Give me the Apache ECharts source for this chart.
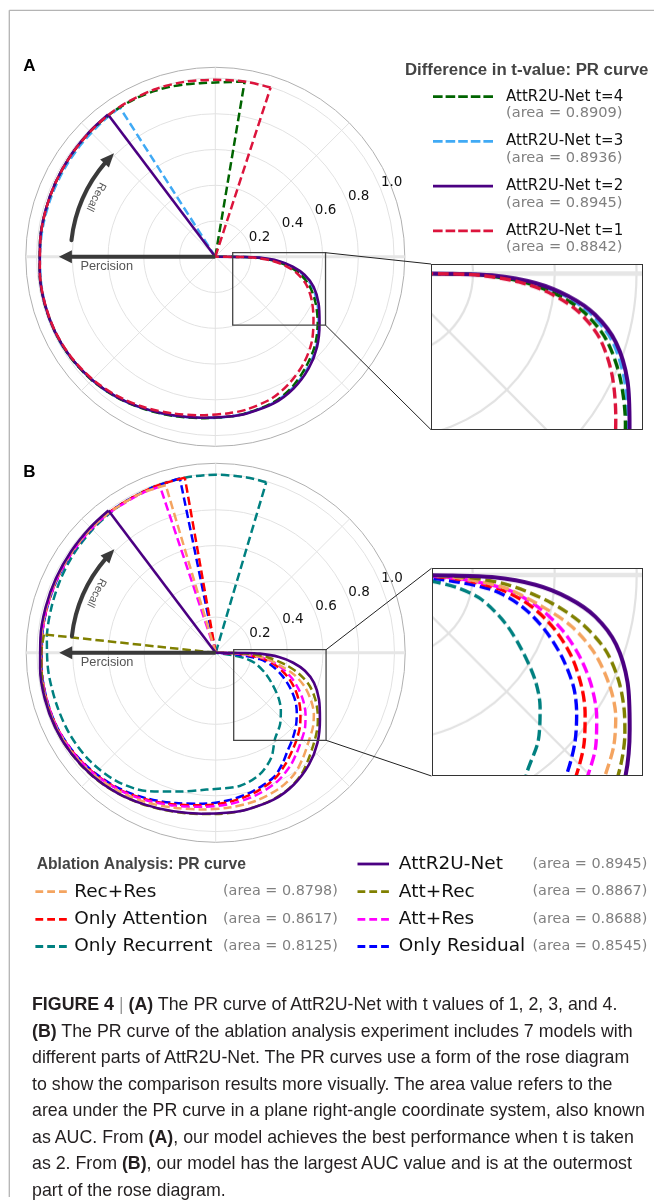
<!DOCTYPE html>
<html><head><meta charset="utf-8">
<script src="https://cdn.jsdelivr.net/npm/echarts@6/dist/echarts.min.js"></script>
<style>
html,body{margin:0;padding:0;background:#fff;}
#page{position:relative;width:654px;height:1200px;overflow:hidden;background:#fff;}
#main{position:absolute;left:0;top:0;width:654px;height:1200px;}
.inset{position:absolute;overflow:hidden;background:#fff;}
.insetBorder{position:absolute;border:1.7px solid #333;box-sizing:border-box;pointer-events:none;}
#caption{position:absolute;left:32px;top:991px;font-family:'Liberation Sans',Arial,sans-serif;font-size:17.8px;line-height:26.5px;color:#231f20;white-space:nowrap;}
#caption b{font-weight:bold;}
#caption .bar{color:#999;}
</style></head>
<body><div id="page">
<div id="main"></div>
<div id="insetA" class="inset"></div>
<div id="insetB" class="inset"></div>
<div id="borderA" class="insetBorder"></div>
<div id="borderB" class="insetBorder"></div>
<div id="caption">
<div><b>FIGURE 4</b> <span class="bar">|</span> <b>(A)</b> The PR curve of AttR2U-Net with t values of 1, 2, 3, and 4.</div>
<div><b>(B)</b> The PR curve of the ablation analysis experiment includes 7 models with</div>
<div>different parts of AttR2U-Net. The PR curves use a form of the rose diagram</div>
<div>to show the comparison results more visually. The area value refers to the</div>
<div>area under the PR curve in a plane right-angle coordinate system, also known</div>
<div>as AUC. From <b>(A)</b>, our model achieves the best performance when t is taken</div>
<div>as 2. From <b>(B)</b>, our model has the largest AUC value and is at the outermost</div>
<div>part of the rose diagram.</div>
</div>
</div>
<script>
// ================= DATA (angle in degrees, counter-clockwise from right; precision = radius) =================
const radiusTicks = [0.2, 0.4, 0.6, 0.8, 1.0];

// AttR2U-Net (t = 2) – shared by panel A and panel B
const attr2uCurve = [[127,0.997],[135,0.992],[145,0.988],[155,0.986],[165,0.985],[175,0.984],[185,0.986],[195,0.99],[205,0.99],[215,0.985],[225,0.974],[235,0.958],[245,0.937],[255,0.918],[265,0.904],[275,0.897],[281.4,0.894],[291.7,0.883],[300.7,0.857],[309.9,0.814],[318.5,0.76],[327.4,0.692],[335.7,0.634],[343,0.575],[348.6,0.509],[352.7,0.437],[356.2,0.354],[358.9,0.247],[359.6,0.15],[360,0]];
// Panel A
const t4Curve = [[80.5,0.993],[85,0.982],[90,0.975],[95,0.975],[100,0.979],[105,0.984],[110,0.988],[117,0.991],[125,0.992],[135,0.99],[145,0.987],[155,0.985],[165,0.984],[175,0.984],[185,0.986],[195,0.99],[205,0.99],[215,0.986],[225,0.976],[235,0.96],[245,0.94],[255,0.921],[265,0.906],[275,0.897],[281.4,0.892],[291.7,0.877],[300.7,0.845],[309.9,0.795],[318.5,0.745],[327.4,0.68],[335.7,0.614],[343,0.55],[348.6,0.482],[352.7,0.41],[356.2,0.326],[358.9,0.224],[359.6,0.13],[360,0]];
const t3Curve = [[122.6,0.991],[130,0.985],[140,0.979],[150,0.977],[160,0.977],[170,0.979],[180,0.981],[190,0.986],[200,0.99],[210,0.99],[220,0.981],[230,0.968],[240,0.949],[250,0.928],[260,0.911],[270,0.901],[281.4,0.891],[291.7,0.879],[300.7,0.851],[309.9,0.808],[318.5,0.755],[327.4,0.686],[335.7,0.626],[343,0.566],[348.6,0.499],[352.7,0.428],[356.2,0.345],[358.9,0.238],[359.6,0.14],[360,0]];
const t1Curve = [[71.9,0.996],[80,0.994],[90,0.99],[100,0.994],[110,0.996],[120,0.995],[127,0.993],[135,0.99],[145,0.987],[155,0.985],[165,0.984],[175,0.983],[185,0.985],[195,0.988],[205,0.988],[215,0.982],[225,0.97],[235,0.952],[245,0.93],[255,0.907],[265,0.89],[275,0.878],[281.4,0.872],[291.7,0.853],[300.7,0.818],[309.9,0.773],[318.5,0.72],[327.4,0.652],[335.7,0.592],[343,0.532],[348.6,0.466],[352.7,0.396],[356.2,0.313],[358.9,0.212],[359.6,0.12],[360,0]];
// Panel B
const recResCurve = [[106.6,0.978],[115,0.985],[127,0.985],[135,0.984],[145,0.982],[155,0.981],[165,0.98],[175,0.979],[185,0.981],[195,0.985],[205,0.985],[215,0.978],[225,0.965],[235,0.945],[245,0.922],[255,0.897],[265,0.88],[275,0.869],[285,0.858],[295,0.838],[303,0.808],[310,0.762],[317.3,0.713],[322.7,0.684],[327.9,0.648],[333.1,0.6],[339.1,0.533],[344.2,0.459],[348.4,0.376],[353.6,0.281],[357.5,0.17],[359.5,0.08],[360,0]];
const attRecCurve = [[173.9,0.966],[180,0.975],[190,0.984],[200,0.988],[210,0.988],[220,0.981],[230,0.968],[240,0.949],[250,0.929],[260,0.912],[270,0.902],[280,0.895],[290,0.883],[298,0.864],[305,0.833],[311,0.79],[316.5,0.752],[321.4,0.721],[326,0.689],[330.1,0.657],[335.4,0.611],[340.9,0.554],[345.9,0.48],[350.2,0.398],[355.3,0.288],[358.5,0.18],[359.5,0.1],[360,0]];
const attResCurve = [[108.5,0.98],[115,0.983],[127,0.983],[135,0.982],[145,0.98],[155,0.979],[165,0.978],[175,0.977],[185,0.979],[195,0.982],[205,0.982],[215,0.974],[225,0.96],[235,0.938],[245,0.912],[255,0.885],[265,0.865],[275,0.85],[285,0.83],[295,0.8],[303,0.76],[309,0.72],[315,0.682],[320.3,0.65],[325.6,0.609],[331.1,0.56],[336.1,0.509],[341.6,0.448],[347.1,0.378],[352.4,0.298],[355.8,0.207],[358.5,0.11],[360,0]];
const onlyAttCurve = [[100,0.995],[110,0.99],[120,0.986],[127,0.985],[135,0.983],[145,0.981],[155,0.979],[165,0.977],[175,0.976],[185,0.978],[195,0.981],[205,0.981],[215,0.972],[225,0.957],[235,0.935],[245,0.907],[255,0.878],[265,0.856],[275,0.838],[285,0.814],[295,0.778],[302,0.735],[308,0.695],[313.3,0.662],[319.1,0.624],[324.7,0.581],[329.8,0.539],[335.8,0.484],[341.7,0.422],[347.5,0.352],[352.5,0.273],[356.5,0.17],[358.5,0.09],[360,0]];
const onlyResCurve = [[101.6,0.995],[110,0.99],[120,0.986],[127,0.985],[135,0.982],[145,0.979],[155,0.977],[165,0.976],[175,0.975],[185,0.977],[195,0.98],[205,0.98],[215,0.97],[225,0.953],[235,0.93],[245,0.9],[255,0.87],[265,0.847],[275,0.828],[285,0.802],[295,0.768],[301,0.724],[306,0.682],[311.7,0.646],[317.7,0.607],[323.4,0.565],[328.7,0.522],[334.6,0.462],[340.5,0.399],[346.6,0.329],[351.8,0.249],[355.9,0.102],[360,0]];
const onlyRecCurve = [[73.5,0.995],[80,0.996],[90,0.996],[100,0.994],[110,0.99],[120,0.985],[127,0.98],[135,0.975],[145,0.968],[155,0.96],[165,0.953],[175,0.948],[186.2,0.942],[198,0.936],[209.2,0.935],[220.7,0.928],[232.3,0.907],[243.4,0.864],[255.5,0.802],[266.1,0.767],[280.2,0.757],[289.9,0.723],[297.9,0.664],[304.5,0.585],[311.9,0.539],[318.7,0.485],[324.1,0.435],[330.4,0.368],[337.3,0.303],[345,0.23],[349.2,0.168],[351.6,0.103],[360,0]];

// Legend texts
const panelATitle = 'Difference in t-value: PR curve';
const panelANames = ['AttR2U-Net t=4', 'AttR2U-Net t=3', 'AttR2U-Net t=2', 'AttR2U-Net t=1'];
const panelAAreas = ['0.8909', '0.8936', '0.8945', '0.8842'];
const panelBTitle = 'Ablation Analysis: PR curve';
const panelBNames = ['Rec+Res', 'Only Attention', 'Only Recurrent', 'AttR2U-Net', 'Att+Rec', 'Att+Res', 'Only Residual'];
const panelBAreas = ['0.8798', '0.8617', '0.8125', '0.8945', '0.8867', '0.8688', '0.8545'];

// ================= STYLE / LAYOUT =================
const A_CURVES = [t4Curve, t3Curve, attr2uCurve, t1Curve];
const A_COLORS = ['#006400', '#40aaf5', '#4B0082', '#DC143C'];
const A_DASHED = [true, true, false, true];
const A_DRAW_ORDER = [1, 0, 2, 3];
const B_CURVES = [recResCurve, onlyAttCurve, onlyRecCurve, attr2uCurve, attRecCurve, attResCurve, onlyResCurve];
const B_COLORS = ['#F4A460', '#FF0000', '#008080', '#4B0082', '#808000', '#FF00FF', '#0000FF'];
const B_DASHED = [true, true, true, false, true, true, true];
const B_DRAW_ORDER = [2, 6, 1, 5, 0, 4, 3];

const R = 189.5, RMAX = 1.06, K = R / RMAX;
const CA = [215.3, 256.8], CB = [215.7, 652.8];
const SA = 2.287, SB = 2.293;
const boxA = {x: 232.7, y: 252.7}, inA = {x: 431, y: 264, w: 212.3, h: 165.7};
const boxB = {x: 233.7, y: 649.7}, inB = {x: 431.5, y: 568.3, w: 211.8, h: 207.7};
boxA.w = inA.w / SA; boxA.h = inA.h / SA;
boxB.w = inB.w / SB; boxB.h = inB.h / SB;

const GRID = '#e2e2e2';

function pol(c, r, deg) {
  const a = deg * Math.PI / 180;
  return [c[0] + r * K * Math.cos(a), c[1] - r * K * Math.sin(a)];
}

function axesFor(polarIndex, gridWidth, outer) {
  const ringColors = [GRID, GRID, GRID, GRID, GRID, GRID, outer ? '#b0b0b0' : GRID];
  return {
    angle: {polarIndex, type: 'value', min: 0, max: 360, interval: 45, startAngle: 0, clockwise: false,
      axisLine: {show: false}, axisTick: {show: false}, axisLabel: {show: false},
      splitLine: {show: true, lineStyle: {color: GRID, width: gridWidth}}},
    radius: {polarIndex, type: 'value', min: 0, max: RMAX, interval: 0.2,
      axisLine: {show: false}, axisTick: {show: false}, axisLabel: {show: false},
      splitLine: {show: true, lineStyle: {color: ringColors, width: gridWidth}}}
  };
}

function curveSeries(polarIndex, curve, color, dashed, width, dash, z) {
  const s = curve[0];
  const ls = {color: color, width: width, type: dashed ? dash : 'solid', cap: 'butt', join: 'round'};
  return [
    {type: 'line', coordinateSystem: 'polar', polarIndex, data: [[0, s[0]], [s[1], s[0]]], symbol: 'none', lineStyle: ls, silent: true, animation: false, z: z},
    {type: 'line', coordinateSystem: 'polar', polarIndex, data: curve.map(p => [p[1], p[0]]), symbol: 'none', smooth: 0.3, lineStyle: ls, silent: true, animation: false, z: z}
  ];
}

function axisBand(polarIndex, width) {
  return {type: 'line', coordinateSystem: 'polar', polarIndex, data: [[RMAX, 180], [0, 0], [RMAX, 0]], symbol: 'none',
    lineStyle: {color: '#e6e6e6', width: width}, silent: true, animation: false, z: 1};
}

function panelSeries(polarIndex, curves, colors, dashed, order, w, dash) {
  let out = [];
  order.forEach((i, k) => {
    out = out.concat(curveSeries(polarIndex, curves[i], colors[i], dashed[i], dashed[i] ? w[0] : w[1], dash, 3 + k));
  });
  return out;
}

// ---------- main chart ----------
const axA = axesFor(0, 1, true), axB = axesFor(2, 1, true);
function labelAxes(polarIndex) {
  return {
    angle: {polarIndex, type: 'value', min: 0, max: 360, startAngle: 22.5, clockwise: false, show: false},
    radius: {polarIndex, type: 'value', min: 0, max: RMAX, interval: 0.2,
      axisLine: {show: false}, axisTick: {show: false}, splitLine: {show: false},
      axisLabel: {show: true, color: '#111', fontSize: 13.5, fontFamily: 'DejaVu Sans', align: 'center', verticalAlign: 'middle',
        padding: [0, 0, 0, 27], margin: 6,
        formatter: v => radiusTicks.some(t => Math.abs(t - v) < 1e-6) ? v.toFixed(1) : ''}}
  };
}
const lA = labelAxes(1), lB = labelAxes(3);

const graphics = [];
// frame
graphics.push({type: 'line', shape: {x1: 9.3, y1: 10.3, x2: 654, y2: 10.3}, style: {stroke: '#b4b4b4', lineWidth: 1.3}, silent: true});
graphics.push({type: 'line', shape: {x1: 9.3, y1: 10.3, x2: 9.3, y2: 1197}, style: {stroke: '#b4b4b4', lineWidth: 1.3}, silent: true});
// panel letters
graphics.push({type: 'text', style: {text: 'A', x: 29.3, y: 66.7, font: 'bold 17px "Liberation Sans", Arial', fill: '#000', align: 'center', verticalAlign: 'middle'}});
graphics.push({type: 'text', style: {text: 'B', x: 29.3, y: 472, font: 'bold 17px "Liberation Sans", Arial', fill: '#000', align: 'center', verticalAlign: 'middle'}});

function annotations(c) {
  const ink = '#3a3a3a';
  // Percision arrow
  const tip = pol(c, 0.875, 180);
  graphics.push({type: 'line', shape: {x1: c[0], y1: c[1], x2: tip[0] + 10, y2: tip[1]}, style: {stroke: ink, lineWidth: 4}, silent: true, z: 50});
  graphics.push({type: 'polygon', shape: {points: [[tip[0], tip[1]], [tip[0] + 13, tip[1] - 6.5], [tip[0] + 13, tip[1] + 6.5]]}, style: {fill: ink}, silent: true, z: 50});
  graphics.push({type: 'text', style: {text: 'Percision', x: c[0] - 108.6, y: c[1] + 9.2, font: '12.8px "Liberation Sans", Arial', fill: '#555', align: 'center', verticalAlign: 'middle'}, z: 50});
  // Recall arc arrow
  const rr = 0.81;
  graphics.push({type: 'arc', shape: {cx: c[0], cy: c[1], r: rr * K, startAngle: -173.4 * Math.PI / 180, endAngle: -139.2 * Math.PI / 180, clockwise: true},
    style: {stroke: ink, lineWidth: 4, fill: null, lineCap: 'round'}, silent: true, z: 50});
  const t = pol(c, rr, 134.4), b = pol(c, rr, 139.9);
  const dx = t[0] - b[0], dy = t[1] - b[1], L = Math.hypot(dx, dy), nx = -dy / L * 6, ny = dx / L * 6;
  graphics.push({type: 'polygon', shape: {points: [[t[0], t[1]], [b[0] + nx, b[1] + ny], [b[0] - nx, b[1] - ny]]}, style: {fill: ink}, silent: true, z: 50});
  const tp = pol(c, 0.747, 153.3);
  graphics.push({type: 'text', x: tp[0], y: tp[1], rotation: 243.3 * Math.PI / 180,
    style: {text: 'Recall', x: 0, y: 0, font: '11px "Liberation Sans", Arial', fill: '#555', align: 'center', verticalAlign: 'middle'}, z: 50});
}
annotations(CA); annotations(CB);

// zoom boxes + connectors
function zoomBox(box, inn) {
  graphics.push({type: 'rect', shape: {x: box.x, y: box.y, width: box.w, height: box.h}, style: {stroke: '#444', lineWidth: 1.3, fill: null}, silent: true, z: 60});
  graphics.push({type: 'line', shape: {x1: box.x + box.w, y1: box.y, x2: inn.x, y2: inn.y}, style: {stroke: '#222', lineWidth: 1}, silent: true, z: 60});
  graphics.push({type: 'line', shape: {x1: box.x + box.w, y1: box.y + box.h, x2: inn.x, y2: inn.y + inn.h}, style: {stroke: '#222', lineWidth: 1}, silent: true, z: 60});
}
zoomBox(boxA, inA); zoomBox(boxB, inB);

// legend A
graphics.push({type: 'text', style: {text: panelATitle, x: 405, y: 70.7, font: 'bold 16.8px "Liberation Sans", Arial', fill: '#444', align: 'left', verticalAlign: 'middle'}});
panelANames.forEach((name, i) => {
  const y = 96.7 + i * 44.7;
  graphics.push({type: 'line', shape: {x1: 433, y1: y, x2: 493, y2: y}, style: {stroke: A_COLORS[i], lineWidth: 2.8, lineDash: A_DASHED[i] ? [9.6, 3] : null}, silent: true});
  graphics.push({type: 'text', style: {text: name, x: 506, y: y, font: '15px "DejaVu Sans"', fill: '#111', align: 'left', verticalAlign: 'middle'}});
  graphics.push({type: 'text', style: {text: '(area = ' + panelAAreas[i] + ')', x: 506, y: y + 16.7, font: '14.6px "DejaVu Sans"', fill: '#808080', align: 'left', verticalAlign: 'middle'}});
});
// legend B
graphics.push({type: 'text', style: {text: panelBTitle, x: 36.7, y: 865, font: 'bold 15.7px "Liberation Sans", Arial', fill: '#444', align: 'left', verticalAlign: 'middle'}});
const bRows = [891.7, 919.3, 946.5, 864, 891.7, 919.3, 946.5];
panelBNames.forEach((name, i) => {
  const right = i >= 3;
  const y = bRows[i];
  const lx = right ? 357.5 : 35.4, tx = right ? 398.8 : 74.2, ax = right ? 532.5 : 223;
  graphics.push({type: 'line', shape: {x1: lx, y1: y, x2: lx + 31.5, y2: y}, style: {stroke: B_COLORS[i], lineWidth: 2.8, lineDash: B_DASHED[i] ? [7.8, 4] : null}, silent: true});
  graphics.push({type: 'text', style: {text: name, x: tx, y: y, font: '18.5px "DejaVu Sans"', fill: '#111', align: 'left', verticalAlign: 'middle'}});
  graphics.push({type: 'text', style: {text: '(area = ' + panelBAreas[i] + ')', x: ax, y: y, font: '14.4px "DejaVu Sans"', fill: '#808080', align: 'left', verticalAlign: 'middle'}});
});

const mainOption = {
  animation: false,
  polar: [
    {center: CA, radius: R}, {center: CA, radius: R},
    {center: CB, radius: R}, {center: CB, radius: R}
  ],
  angleAxis: [axA.angle, lA.angle, axB.angle, lB.angle],
  radiusAxis: [axA.radius, lA.radius, axB.radius, lB.radius],
  series: [axisBand(0, 3), axisBand(2, 3)]
    .concat(panelSeries(0, A_CURVES, A_COLORS, A_DASHED, A_DRAW_ORDER, [2.5, 2.6], [8.5, 4]))
    .concat(panelSeries(2, B_CURVES, B_COLORS, B_DASHED, B_DRAW_ORDER, [2.5, 2.6], [8.5, 4])),
  graphic: {elements: graphics}
};
const chart = echarts.init(document.getElementById('main'), null, {width: 654, height: 1200});
chart.setOption(mainOption);

// ---------- insets ----------
function makeInset(id, borderId, inn, box, c, s, curves, colors, dashed, order) {
  const el = document.getElementById(id), bd = document.getElementById(borderId);
  [el, bd].forEach(d => { d.style.left = inn.x + 'px'; d.style.top = inn.y + 'px'; d.style.width = inn.w + 'px'; d.style.height = inn.h + 'px'; });
  const ctr = [(c[0] - box.x) * s, (c[1] - box.y) * s];
  const ax = axesFor(0, 2.2, false);
  const ch = echarts.init(el, null, {width: inn.w, height: inn.h});
  ch.setOption({
    animation: false,
    polar: [{center: ctr, radius: R * s}],
    angleAxis: [ax.angle], radiusAxis: [ax.radius],
    series: [axisBand(0, 4.5)].concat(panelSeries(0, curves, colors, dashed, order, [3.4, 4], [11, 4.6]))
  });
}
makeInset('insetA', 'borderA', inA, boxA, CA, SA, A_CURVES, A_COLORS, A_DASHED, A_DRAW_ORDER);
makeInset('insetB', 'borderB', inB, boxB, CB, SB, B_CURVES, B_COLORS, B_DASHED, B_DRAW_ORDER);
</script>
</body></html>
